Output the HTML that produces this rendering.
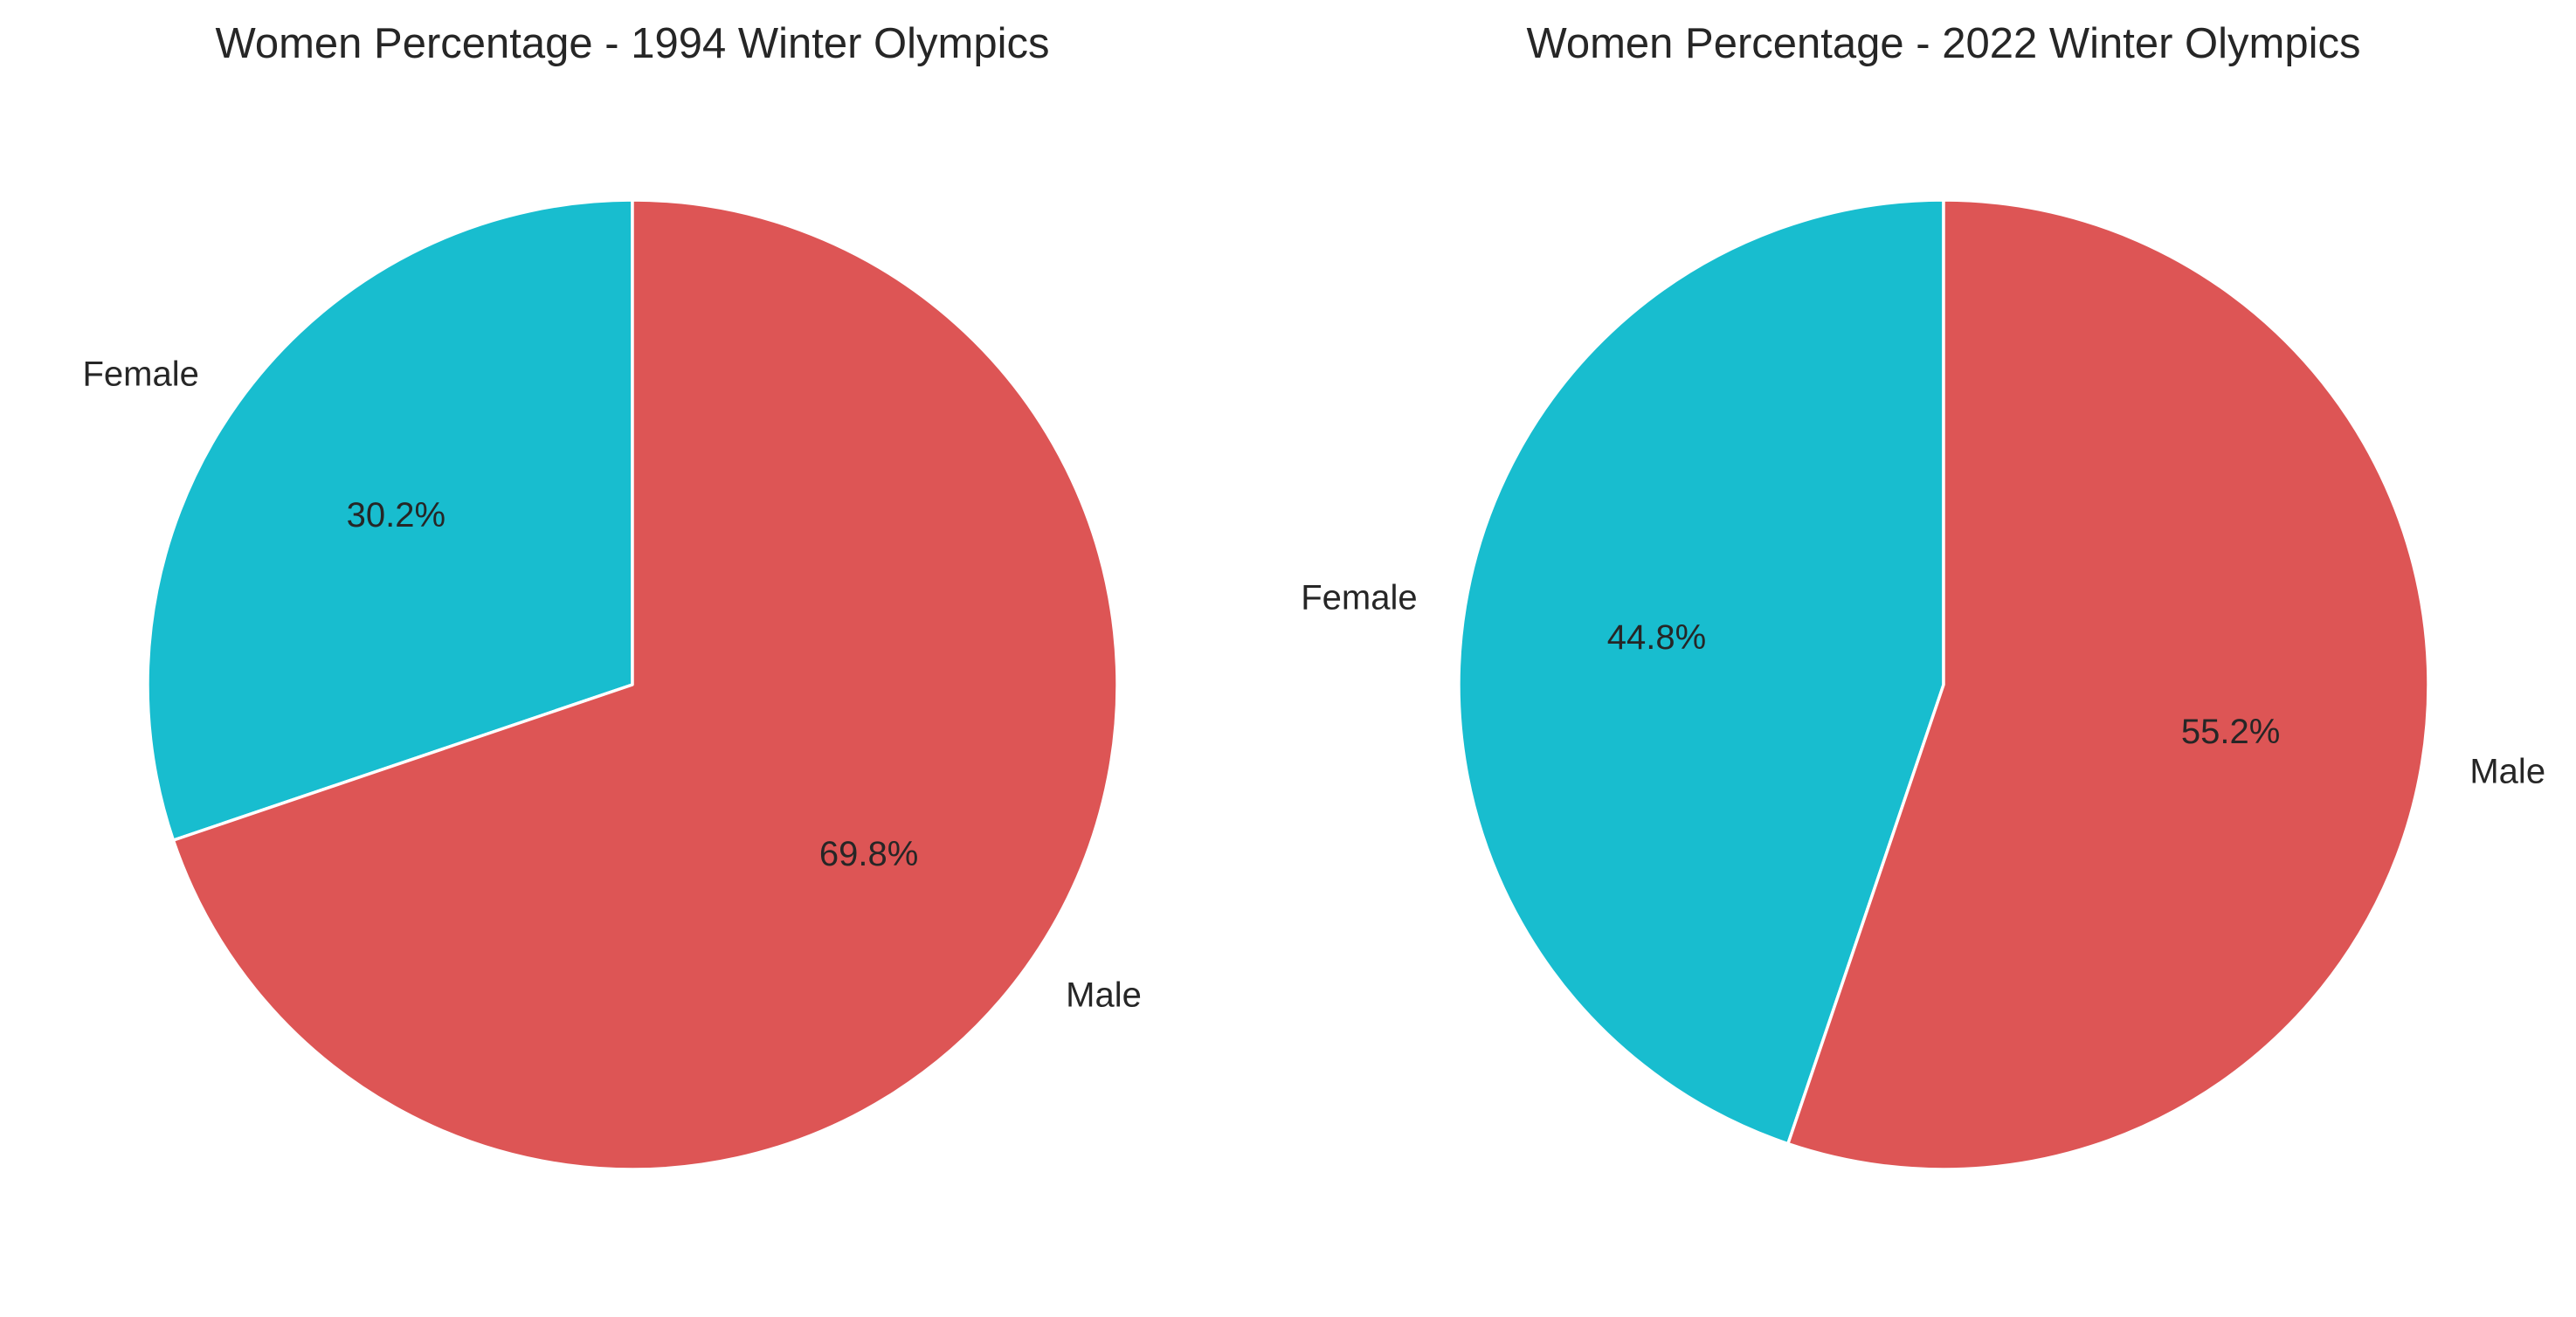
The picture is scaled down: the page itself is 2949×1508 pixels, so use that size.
<!DOCTYPE html>
<html><head><meta charset="utf-8"><style>
html,body{margin:0;padding:0;background:#fff;}
svg{display:block;font-family:"Liberation Sans",Arial,sans-serif;}
</style></head><body>
<svg id="chart" width="2949" height="1508" viewBox="0 0 2949 1508"></svg>
<script>
const categories = ["Female", "Male"];
const values1994 = [30.2, 69.8];
const values2022 = [44.8, 55.2];
const titles = ["Women Percentage - 1994 Winter Olympics", "Women Percentage - 2022 Winter Olympics"];
const colors = ["#18bdcf", "#dd5555"];

const svg = document.getElementById('chart');
const NS = "http://www.w3.org/2000/svg";
const R = 555;
const panels = [{cx: 724, cy: 784, vals: values1994, title: titles[0], key: "1994"},
                {cx: 2225, cy: 784, vals: values2022, title: titles[1], key: "2022"}];

function pt(cx, cy, r, deg){ const a = deg*Math.PI/180; return [cx + r*Math.cos(a), cy - r*Math.sin(a)]; }

panels.forEach(p => {
  const g = document.createElementNS(NS, 'g');
  
  
  svg.appendChild(g);
  const t = document.createElementNS(NS, 'text');
  t.setAttribute('x', p.cx); t.setAttribute('y', 66);
  t.setAttribute('text-anchor', 'middle'); t.setAttribute('font-size', '49'); t.setAttribute('fill', '#262626');
  t.textContent = p.title;
  
  
  g.appendChild(t);
  const total = p.vals.reduce((a,b)=>a+b, 0);
  let start = 90;
  p.vals.forEach((v, i) => {
    const sweep = v/total*360;
    const end = start + sweep;
    const [x1,y1] = pt(p.cx,p.cy,R,start);
    const [x2,y2] = pt(p.cx,p.cy,R,end);
    const large = sweep > 180 ? 1 : 0;
    const path = document.createElementNS(NS, 'path');
    path.setAttribute('d', `M${p.cx},${p.cy} L${x1},${y1} A${R},${R} 0 ${large} 0 ${x2},${y2} Z`);
    path.setAttribute('fill', colors[i]); path.setAttribute('stroke', '#fff'); path.setAttribute('stroke-width', '3.5');
    path.setAttribute('stroke-linejoin', 'round');
    
    
    g.appendChild(path);
    const mid = start + sweep/2;
    const [lx, ly] = pt(p.cx,p.cy,R*1.1,mid);
    const lab = document.createElementNS(NS, 'text');
    lab.setAttribute('x', lx); lab.setAttribute('y', ly);
    lab.setAttribute('text-anchor', Math.cos(mid*Math.PI/180) < 0 ? 'end' : 'start');
    lab.setAttribute('dominant-baseline', 'central'); lab.setAttribute('font-size', '40'); lab.setAttribute('fill', '#262626');
    lab.textContent = categories[i];
    
    
    g.appendChild(lab);
    const [px, py] = pt(p.cx,p.cy,R*0.6,mid);
    const pc = document.createElementNS(NS, 'text');
    pc.setAttribute('x', px); pc.setAttribute('y', py);
    pc.setAttribute('text-anchor', 'middle'); pc.setAttribute('dominant-baseline', 'central');
    pc.setAttribute('font-size', '40'); pc.setAttribute('fill', '#262626');
    pc.textContent = v.toFixed(1) + '%';
    
    
    g.appendChild(pc);
    start = end;
  });
});
</script>
</body></html>
